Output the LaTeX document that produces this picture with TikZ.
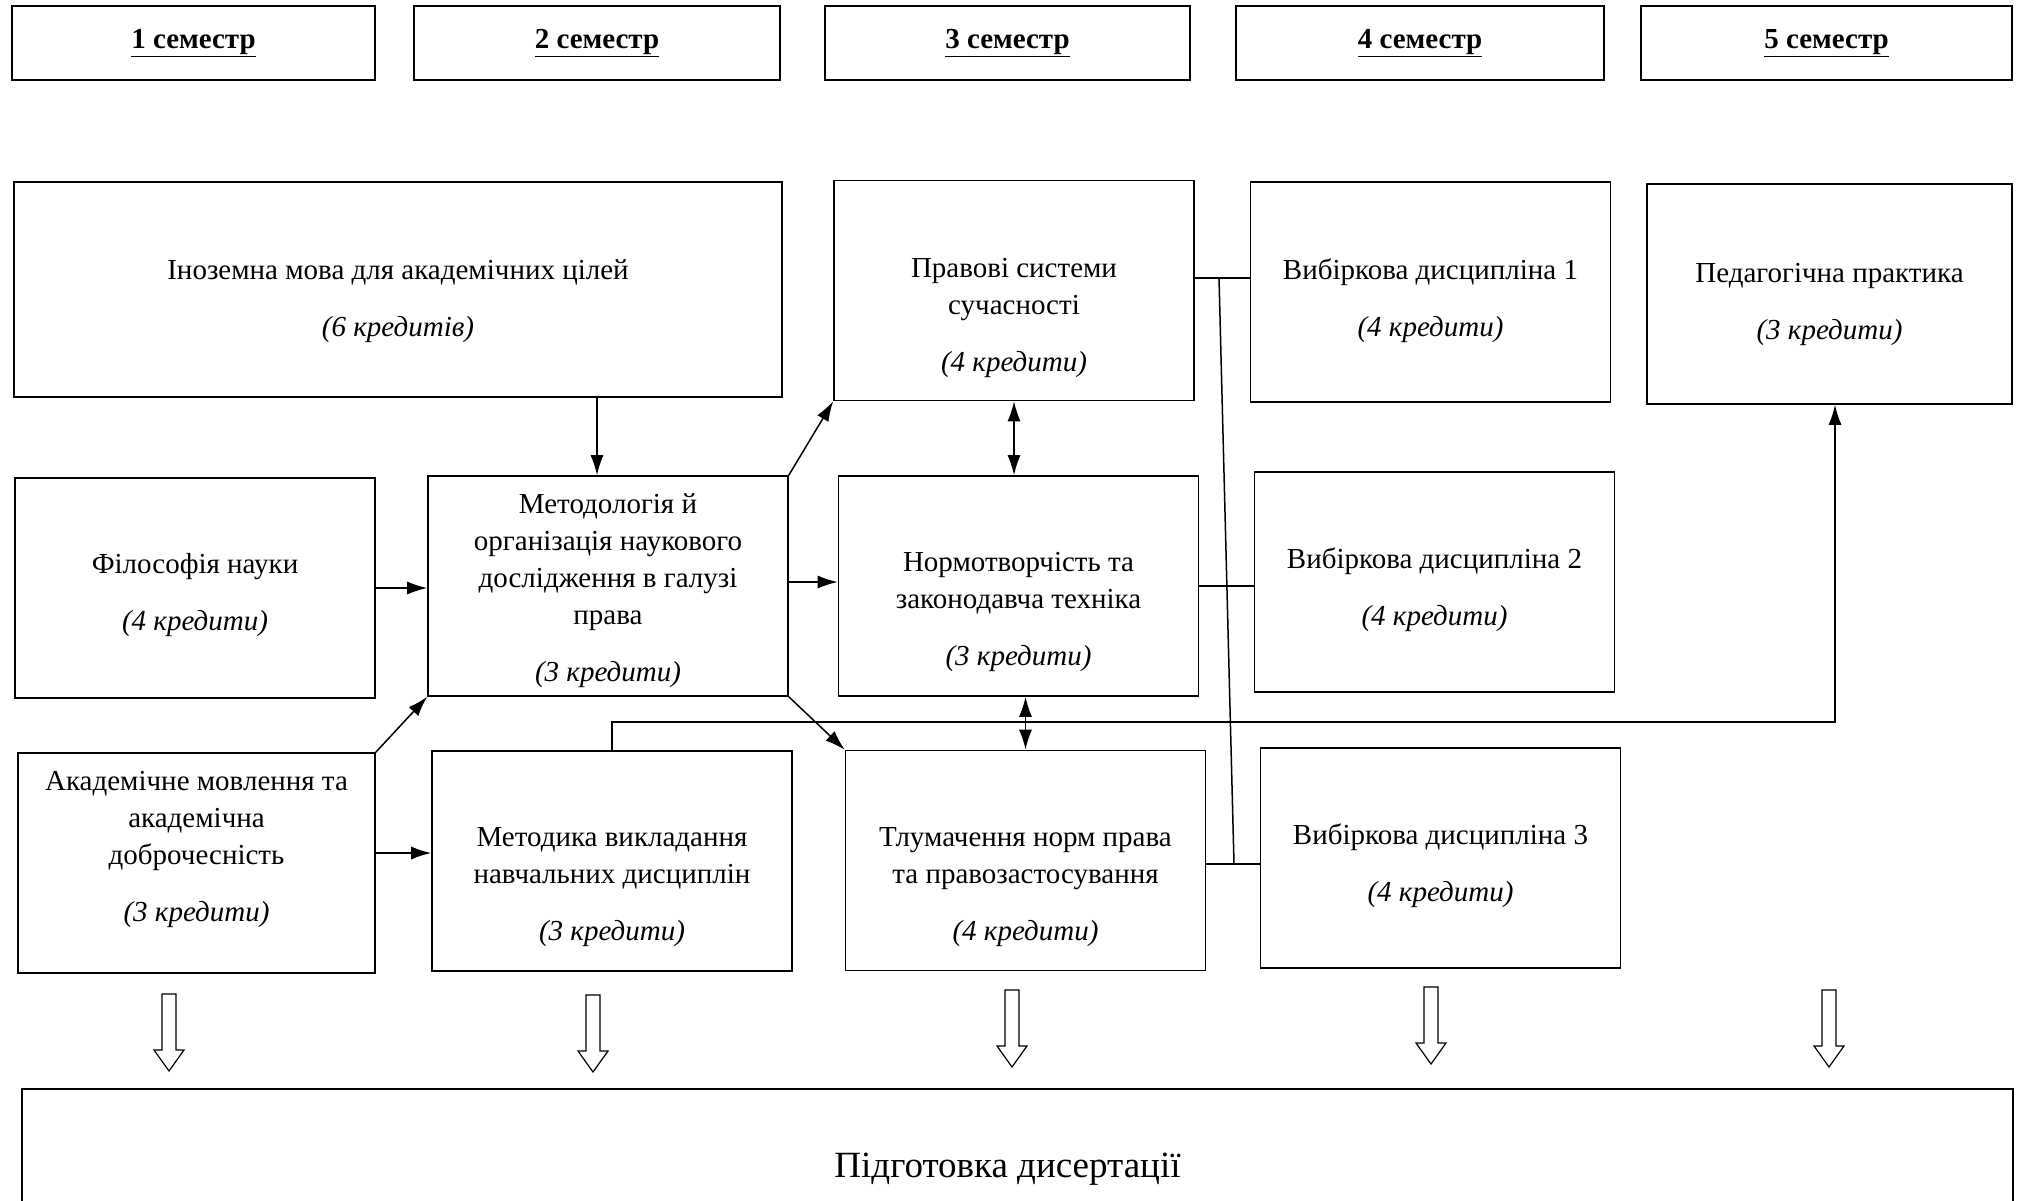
\documentclass[tikz,border=0pt]{standalone}
\usepackage{fontspec}
\setmainfont{Liberation Serif}
\usetikzlibrary{arrows.meta}
\tikzstyle{arrow} = [line width=1.5pt,-{Latex[length=20pt,width=13pt]}]
\tikzstyle{twoway} = [line width=1.5pt,{Latex[length=20pt,width=13pt]}-{Latex[length=20pt,width=13pt]}]
\tikzstyle{link} = [line width=1.5pt]
\newcommand{\cred}[1]{\\[20pt]\textit{(#1)}}
\newcommand{\dn}[1]{\rule{0pt}{#1}}
\newcommand{\upsh}[1]{\rule[-#1]{0pt}{0pt}}
\begin{document}
\begin{tikzpicture}
        [x=1pt,y=-1pt,
            box/.style={rectangle,draw=black,line width=1.6pt,align=center,inner sep=0pt,
                minimum width=360pt,minimum height=220pt,font=\fontsize{29}{37}\selectfont},
            semester/.style={box,minimum height=74pt,font=\fontsize{29}{37}\selectfont\bfseries},
        ]
    \useasboundingbox (0,0) rectangle (2021,1200);

    % semesters
    \node[semester,minimum width=363pt] (s1) at (193.5,43) {\underline{1 семестр}};
    \node[semester,minimum width=366pt] (s2) at (597,43) {\underline{2 семестр}};
    \node[semester,minimum width=365pt] (s3) at (1007.5,43) {\underline{3 семестр}};
    \node[semester,minimum width=368pt] (s4) at (1420,43) {\underline{4 семестр}};
    \node[semester,minimum width=371pt] (s5) at (1826.5,43) {\underline{5 семестр}};

    % disciplines
    \node[box,minimum width=768pt,minimum height=215pt] (inoz) at (398,289.5) {\dn{44pt}Іноземна мова для академічних цілей\cred{6 кредитів}};
    \node[box] (prav) at (1014,290.5) {\dn{74pt}Правові системи\\сучасності\cred{4 кредити}};
    \node[box] (vyb1) at (1430.5,292) {\dn{38pt}Вибіркова дисципліна 1\cred{4 кредити}};
    \node[box,minimum width=365pt] (ped) at (1829.5,294) {\dn{40pt}Педагогічна практика\cred{3 кредити}};
    \node[box] (fil) at (195,588) {\dn{34pt}Філософія науки\cred{4 кредити}};
    \node[box] (metod) at (608,586) {\dn{30pt}Методологія й\\організація наукового\\дослідження в галузі\\права\cred{3 кредити}};
    \node[box] (norm) at (1018.5,586) {\dn{72pt}Нормотворчість та\\законодавча техніка\cred{3 кредити}};
    \node[box] (vyb2) at (1434.5,582) {\dn{36pt}Вибіркова дисципліна 2\cred{4 кредити}};
    \node[box,minimum width=357pt] (akad) at (196.5,863) {Академічне мовлення та\\академічна\\доброчесність\cred{3 кредити}\upsh{34pt}};
    \node[box] (metodyka) at (612,861) {\dn{72pt}Методика викладання\\навчальних дисциплін\cred{3 кредити}};
    \node[box] (tlum) at (1025.5,860.5) {\dn{72pt}Тлумачення норм права\\та правозастосування\cred{4 кредити}};
    \node[box] (vyb3) at (1440.5,858) {\dn{36pt}Вибіркова дисципліна 3\cred{4 кредити}};

    \node[box,minimum width=1991pt,minimum height=160pt,font=\fontsize{37}{44}\selectfont] (dis) at (1017.5,1169) {Підготовка дисертації\hspace*{20pt}};

    % hollow arrows to the thesis
    \foreach \x/\t in {169/994,593/995,1012/990,1431/987,1829/990}
        \draw[line width=1.2pt] (\x-7,\t) -- (\x+7,\t) -- (\x+7,\t+56) -- (\x+15,\t+56)
            -- (\x,\t+77) -- (\x-15,\t+56) -- (\x-7,\t+56) -- cycle;

    % links
    \draw[arrow] ([xshift=-11pt]metod.north |- inoz.south) -- ([xshift=-11pt]metod.north);
    \draw[arrow] (fil.east) -- (fil.east -| metod.west);
    \draw[arrow] (akad.north east) -- (metod.south west);
    \draw[arrow] ([yshift=10pt]akad.east) -- ([yshift=10pt]akad.east -| metodyka.west);
    \draw[arrow] (metod.north east) -- (prav.south west);
    \draw[arrow] ([yshift=4pt]metod.east) -- ([yshift=4pt]metod.east -| norm.west);
    \draw[arrow] (metod.south east) -- (tlum.north west);
    \draw[twoway] (prav.south) -- (prav.south |- norm.north);
    \draw[twoway] (tlum.north |- norm.south) -- (tlum.north);
    \coordinate (turn) at (1835,722);
    \draw[arrow] (metodyka.north) |- (turn) -- (turn |- ped.south);

    % electives
    \coordinate (bustop) at (1219,278);
    \coordinate (busbot) at (1234,864);
    \draw[link] (bustop) -- (busbot);
    \draw[link] (prav.east |- bustop) -- (vyb1.west |- bustop);
    \draw[link] (norm.east) -- (norm.east -| vyb2.west);
    \draw[link] (tlum.east |- busbot) -- (vyb3.west |- busbot);
\end{tikzpicture}
\end{document}
